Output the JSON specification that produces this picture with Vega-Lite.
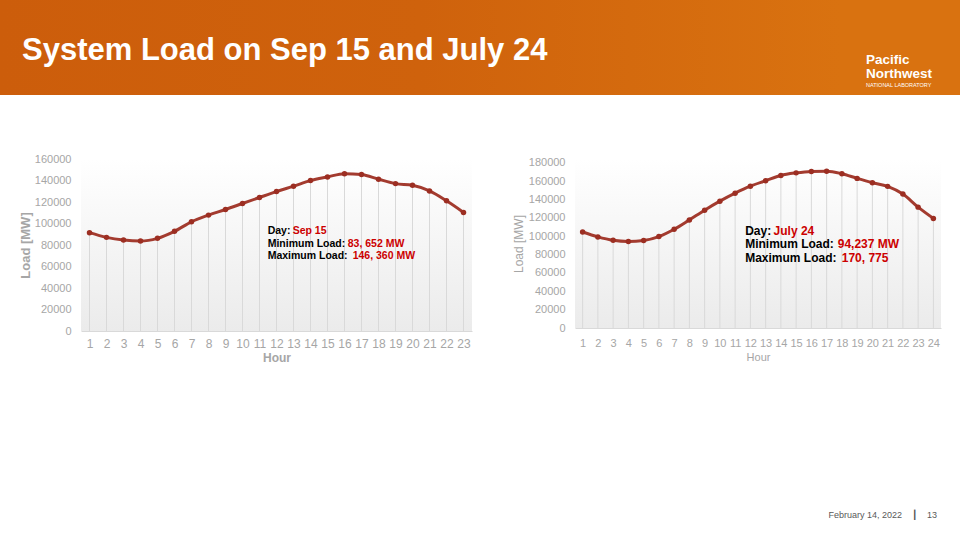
{
  "$schema": "https://vega.github.io/schema/vega-lite/v6.json",
  "padding": 0,
  "background": "white",
  "spacing": 58,
  "title": {"text": "February 14, 2022\u00a0\u00a0\u00a0\u00a0\u2503\u00a0\u00a0\u00a0\u00a013", "orient": "bottom", "anchor": "end", "offset": 148, "dx": -23, "fontSize": 9, "fontWeight": "normal", "font": "Liberation Sans", "color": "#595959"},
  "config": {"view": {"stroke": null}, "font": "Liberation Sans", "axis": {"labelOverlap": false}},
  "datasets": {
    "one": [{"k": 1}],
    "sep15": [
      {"hour": 1, "load": 91500}, {"hour": 2, "load": 87100}, {"hour": 3, "load": 84600}, {"hour": 4, "load": 83652},
      {"hour": 5, "load": 86200}, {"hour": 6, "load": 92700}, {"hour": 7, "load": 101600}, {"hour": 8, "load": 107800},
      {"hour": 9, "load": 113000}, {"hour": 10, "load": 118600}, {"hour": 11, "load": 124200}, {"hour": 12, "load": 129700},
      {"hour": 13, "load": 134700}, {"hour": 14, "load": 139900}, {"hour": 15, "load": 143300}, {"hour": 16, "load": 146360},
      {"hour": 17, "load": 145500}, {"hour": 18, "load": 141200}, {"hour": 19, "load": 137100}, {"hour": 20, "load": 135600},
      {"hour": 21, "load": 130300}, {"hour": 22, "load": 121100}, {"hour": 23, "load": 110300}
    ],
    "jul24": [
      {"hour": 1, "load": 104500}, {"hour": 2, "load": 99200}, {"hour": 3, "load": 95500}, {"hour": 4, "load": 94237},
      {"hour": 5, "load": 95300}, {"hour": 6, "load": 99500}, {"hour": 7, "load": 107500}, {"hour": 8, "load": 117700},
      {"hour": 9, "load": 128300}, {"hour": 10, "load": 138100}, {"hour": 11, "load": 146800}, {"hour": 12, "load": 154400},
      {"hour": 13, "load": 160300}, {"hour": 14, "load": 166100}, {"hour": 15, "load": 168900}, {"hour": 16, "load": 170500},
      {"hour": 17, "load": 170775}, {"hour": 18, "load": 168000}, {"hour": 19, "load": 162900}, {"hour": 20, "load": 158200},
      {"hour": 21, "load": 154200}, {"hour": 22, "load": 145800}, {"hour": 23, "load": 131600}, {"hour": 24, "load": 119300}
    ],
    "sepNotes": [
      {"hour": 11.48, "load": 93300, "text": "Day:", "part": "label"},
      {"hour": 12.95, "load": 93300, "text": "Sep 15", "part": "value"},
      {"hour": 11.48, "load": 80930, "text": "Minimum Load:", "part": "label"},
      {"hour": 16.19, "load": 80930, "text": "83, 652 MW", "part": "value"},
      {"hour": 11.48, "load": 70050, "text": "Maximum Load:", "part": "label"},
      {"hour": 16.48, "load": 70050, "text": "146, 360 MW", "part": "value"}
    ],
    "julNotes": [
      {"hour": 11.66, "load": 106000, "text": "Day:", "part": "label"},
      {"hour": 13.52, "load": 106000, "text": "July 24", "part": "value"},
      {"hour": 11.66, "load": 91150, "text": "Minimum Load:", "part": "label"},
      {"hour": 17.73, "load": 91150, "text": "94,237 MW", "part": "value"},
      {"hour": 11.66, "load": 76550, "text": "Maximum Load:", "part": "label"},
      {"hour": 17.99, "load": 76550, "text": "170, 775", "part": "value"}
    ]
  },
  "vconcat": [
    {
      "spacing": 0,
      "hconcat": [
        {
          "width": 840, "height": 95,
          "data": {"name": "one"},
          "mark": {"type": "rect", "strokeWidth": 0, "color": {"gradient": "linear", "x1": 0, "y1": 0, "x2": 1, "y2": 0, "stops": [{"offset": 0, "color": "#cc5d0b"}, {"offset": 0.5, "color": "#cf620c"}, {"offset": 1, "color": "#d97210"}]}},
          "encoding": {},
          "title": {"text": "System Load on Sep 15 and July 24", "orient": "top", "anchor": "start", "frame": "group", "offset": -91, "dx": 22, "baseline": "alphabetic", "fontSize": 31, "fontWeight": "bold", "font": "Liberation Sans", "color": "white"}
        },
        {
          "width": 120, "height": 95,
          "data": {"name": "one"},
          "mark": {"type": "rect", "strokeWidth": 0, "color": "#d97210"},
          "encoding": {},
          "title": {"text": ["Pacific", "Northwest"], "subtitle": "NATIONAL LABORATORY", "orient": "top", "anchor": "start", "frame": "group", "offset": -88, "dx": 26, "fontSize": 13.5, "lineHeight": 14.5, "fontWeight": "bold", "font": "Liberation Sans", "color": "white", "subtitleFontSize": 5.5, "subtitleColor": "white", "subtitlePadding": 2, "subtitleFont": "Liberation Sans"}
        }
      ]
    },
    {
      "spacing": 18,
      "hconcat": [
        {
          "width": 1, "height": 1,
          "data": {"name": "one"},
          "mark": {"type": "rect", "opacity": 0},
          "encoding": {}
        },
        {
          "spacing": 40,
          "hconcat": [
            {
              "width": 391, "height": 172,
              "view": {"stroke": null, "fill": {"gradient": "linear", "x1": 0, "y1": 0, "x2": 0, "y2": 1, "stops": [{"offset": 0, "color": "#ffffff"}, {"offset": 1, "color": "#ebebeb"}]}},
              "encoding": {
                "x": {"field": "hour", "type": "quantitative", "scale": {"domain": [0.5, 23.5], "nice": false, "zero": false},
                  "axis": {"values": [1,2,3,4,5,6,7,8,9,10,11,12,13,14,15,16,17,18,19,20,21,22,23], "format": "d", "title": "Hour", "titleFontWeight": "bold", "titleFontSize": 12, "titleColor": "#a6a6a6", "labelColor": "#a6a6a6", "labelFontSize": 12, "ticks": false, "domain": true, "domainColor": "#d9d9d9", "grid": false, "labelPadding": 7, "titlePadding": 3, "labelOverlap": false, "labelFlush": false}},
                "y": {"field": "load", "type": "quantitative", "scale": {"domain": [0, 160000], "nice": false},
                  "axis": {"values": [0,20000,40000,60000,80000,100000,120000,140000,160000], "format": "d", "title": "Load [MW]", "titleFontWeight": "bold", "titleFontSize": 13, "titleColor": "#a6a6a6", "labelColor": "#a6a6a6", "labelFontSize": 11, "ticks": false, "domain": false, "grid": false, "labelPadding": 10, "titlePadding": 2, "labelOverlap": false}}
              },
              "layer": [
                {
                  "data": {"name": "sep15"},
                  "mark": {"type": "rule", "color": "#d9d9d9", "strokeWidth": 1},
                  "encoding": {"y2": {"datum": 0}}
                },
                {
                  "data": {"name": "sep15"},
                  "mark": {"type": "line", "color": "#a33b2f", "strokeWidth": 3, "interpolate": "monotone"}
                },
                {
                  "data": {"name": "sep15"},
                  "mark": {"type": "point", "filled": true, "size": 30, "color": "#9c2e22", "opacity": 1}
                },
                {
                  "data": {"name": "sepNotes"},
                  "mark": {"type": "text", "align": "left", "baseline": "middle", "fontWeight": "bold", "fontSize": 10.5, "font": "Liberation Sans"},
                  "encoding": {
                    "text": {"field": "text"},
                    "color": {"field": "part", "type": "nominal", "scale": {"domain": ["label", "value"], "range": ["#000000", "#cc0000"]}, "legend": null}
                  }
                }
              ]
            },
            {
              "width": 366, "height": 169,
              "view": {"stroke": null, "fill": {"gradient": "linear", "x1": 0, "y1": 0, "x2": 0, "y2": 1, "stops": [{"offset": 0, "color": "#ffffff"}, {"offset": 1, "color": "#ebebeb"}]}},
              "encoding": {
                "x": {"field": "hour", "type": "quantitative", "scale": {"domain": [0.5, 24.5], "nice": false, "zero": false},
                  "axis": {"values": [1,2,3,4,5,6,7,8,9,10,11,12,13,14,15,16,17,18,19,20,21,22,23,24], "format": "d", "title": "Hour", "titleFontWeight": "normal", "titleFontSize": 11, "titleColor": "#a6a6a6", "labelColor": "#a6a6a6", "labelFontSize": 11, "ticks": false, "domain": true, "domainColor": "#d9d9d9", "grid": false, "labelPadding": 9, "titlePadding": 3, "labelOverlap": false, "labelFlush": false}},
                "y": {"field": "load", "type": "quantitative", "scale": {"domain": [0, 184000], "nice": false},
                  "axis": {"values": [0,20000,40000,60000,80000,100000,120000,140000,160000,180000], "format": "d", "title": "Load [MW]", "titleFontWeight": "normal", "titleFontSize": 12, "titleColor": "#a6a6a6", "labelColor": "#a6a6a6", "labelFontSize": 11, "ticks": false, "domain": false, "grid": false, "labelPadding": 10, "titlePadding": 3, "labelOverlap": false}}
              },
              "layer": [
                {
                  "data": {"name": "jul24"},
                  "mark": {"type": "rule", "color": "#d9d9d9", "strokeWidth": 1},
                  "encoding": {"y2": {"datum": 0}}
                },
                {
                  "data": {"name": "jul24"},
                  "mark": {"type": "line", "color": "#a33b2f", "strokeWidth": 3, "interpolate": "monotone"}
                },
                {
                  "data": {"name": "jul24"},
                  "mark": {"type": "point", "filled": true, "size": 30, "color": "#9c2e22", "opacity": 1}
                },
                {
                  "data": {"name": "julNotes"},
                  "mark": {"type": "text", "align": "left", "baseline": "middle", "fontWeight": "bold", "fontSize": 12, "font": "Liberation Sans"},
                  "encoding": {
                    "text": {"field": "text"},
                    "color": {"field": "part", "type": "nominal", "scale": {"domain": ["label", "value"], "range": ["#000000", "#cc0000"]}, "legend": null}
                  }
                }
              ]
            }
          ]
        }
      ]
    }
  ]
}
